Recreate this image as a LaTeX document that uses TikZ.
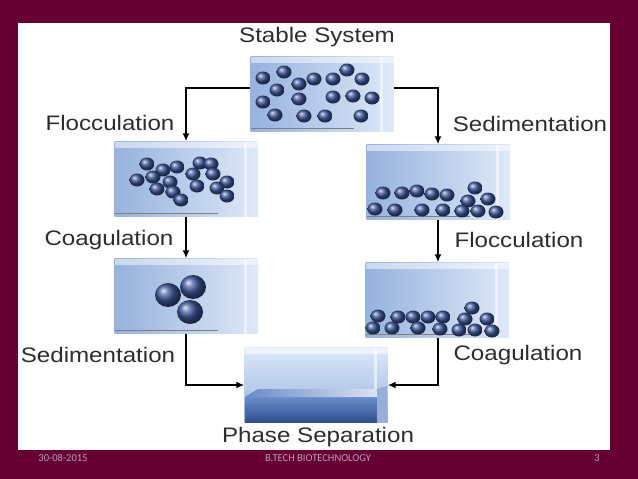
\documentclass[tikz,border=0pt]{standalone}
\usepackage{fontspec}
\setmainfont{Liberation Sans}
\newfontfamily\footfont{Carlito}
\usetikzlibrary{arrows.meta,positioning,calc}
\definecolor{slidebg}{RGB}{102,0,51}
\definecolor{tankleft}{RGB}{150,178,222}
\definecolor{tankright}{RGB}{222,232,248}
\definecolor{beadblue}{RGB}{60,85,150}
\definecolor{liqtop}{RGB}{105,140,200}
\definecolor{liqbot}{RGB}{50,80,145}
\definecolor{footgrey}{RGB}{190,160,180}
\definecolor{labelgrey}{RGB}{45,45,45}

\tikzset{
  vessel/.style={left color=tankleft, right color=tankright,
    minimum width=143pt, minimum height=75pt, inner sep=0pt,
    path picture={
      \fill[white, opacity=.5] (path picture bounding box.north west) rectangle ([yshift=-6pt]path picture bounding box.north east);
      \fill[white, opacity=.55] ([xshift=-14pt]path picture bounding box.north east) rectangle ([xshift=-11pt]path picture bounding box.south east);
      \draw[gray, line width=1pt] ([yshift=3pt]path picture bounding box.south west) -- ([xshift=-40pt,yshift=3pt]path picture bounding box.south east);
    }},
  bead/.style={ball color=beadblue},
  flow/.style={line width=1.6pt, -{Latex[length=8pt,width=7pt]}},
  caption/.style={font=\fontsize{21}{24}\selectfont, text=labelgrey, xscale=1.15, inner sep=0pt},
  foot/.style={font=\footfont\fontsize{10.5}{12}\selectfont, text=footgrey, inner sep=0pt}
}

\begin{document}
\begin{tikzpicture}[x=1pt,y=-1pt]
  % slide
  \useasboundingbox (0,0) rectangle (638,479);
  \fill[slidebg] (0,0) rectangle (638,479);
  \fill[white] (18,23) rectangle (610,450);

  % tanks
  \node[vessel] (stable) at (322,94) {};
  \node[vessel] (flocL) at (186,179) {};
  \node[vessel] (coagL) at (186,296) {};
  \node[vessel] (sedR) at (438,182) {};
  \node[vessel] (coagR) at (437,300) {};
  \node[vessel, top color=tankright, bottom color=tankleft] (phase) at (316,385) {};

  % liquid in the last tank
  \shade[top color=liqtop, bottom color=liqbot] (245,397) -- (377,397) -- (377,422) -- (245,422) -- cycle;
  \shade[left color=liqtop, right color=liqtop!25!white] (245,397) -- (258,389) -- (377,389) -- (377,397) -- cycle;
  \fill[liqtop!70!white] (377,389) -- (387,386) -- (387,422) -- (377,422) -- cycle;

  % particles
  \foreach \x/\y in {263/78, 284/72, 277/90, 299/84, 314/79, 333/79, 347/70, 362/79,
      263/102, 299/99, 333/97, 353/96, 372/98, 275/115, 304/116, 325/116, 361/116}
    \shade[bead] (\x,\y) ellipse [x radius=7.5pt, y radius=6.5pt];
  \foreach \x/\y in {147/164, 163/170, 177/167, 200/163, 211/164, 137/180, 153/177, 170/182,
      193/174, 213/174, 227/182, 157/189, 173/192, 197/186, 217/188, 181/200, 227/196}
    \shade[bead] (\x,\y) ellipse [x radius=7.5pt, y radius=6.5pt];
  \foreach \x/\y in {383/193, 402/193, 417/191, 432/194, 447/195, 475/188, 468/201, 488/199,
      375/209, 395/210, 422/210, 443/210, 462/211, 478/211, 496/212}
    \shade[bead] (\x,\y) ellipse [x radius=7.5pt, y radius=6.5pt];
  \foreach \x/\y in {378/316, 398/317, 413/317, 428/317, 443/317, 472/308, 465/319, 487/319,
      373/328, 392/328, 418/328, 440/329, 459/330, 475/330, 492/331}
    \shade[bead] (\x,\y) ellipse [x radius=7.5pt, y radius=6.5pt];
  \foreach \x/\y in {168/295, 193/287, 190/312}
    \shade[bead] (\x,\y) ellipse [x radius=13pt, y radius=12pt];

  % labels
  \node[caption] (lblStable) at (317,37) {Stable System};
  \node[caption] (lblFlocL) at (110,123) {Flocculation};
  \node[caption] (lblCoagL) at (109,240) {Coagulation};
  \node[caption] (lblSedL) at (98,355) {Sedimentation};
  \node[caption] (lblSedR) at (530,124) {Sedimentation};
  \node[caption] (lblFlocR) at (519,240) {Flocculation};
  \node[caption] (lblCoagR) at (518,355) {Coagulation};
  \node[caption] (lblPhase) at (318,437) {Phase Separation};

  % arrows
  \draw[flow] ([yshift=6pt]stable.west) -| (flocL.north);
  \draw[flow] ([yshift=6pt]stable.east) -| (sedR.north);
  \draw[flow] (flocL.south) -- (coagL.north);
  \draw[flow] (sedR.south) -- ([xshift=1pt]coagR.north);
  \draw[flow] (coagL.south) |- (phase.west);
  \draw[flow] ([xshift=1pt]coagR.south) |- (phase.east);

  % footer
  \node[foot] (date) at (63,458) {30-08-2015};
  \node[foot] (dept) at (318,458) {B.TECH BIOTECHNOLOGY};
  \node[foot] (page) at (597,458) {3};
\end{tikzpicture}
\end{document}
